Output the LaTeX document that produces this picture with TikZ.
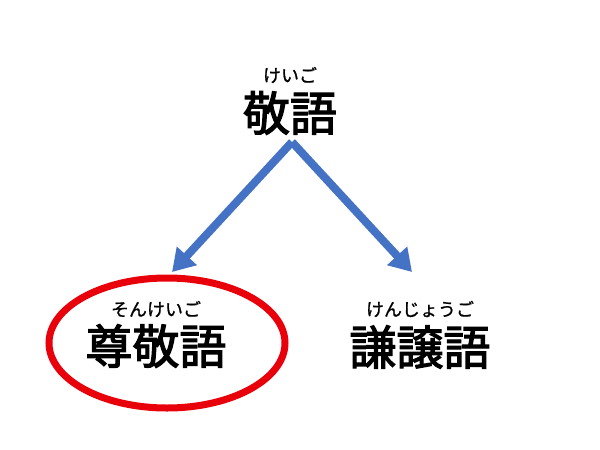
\documentclass[tikz,border=0pt]{standalone}
\usepackage{fontspec}
\newfontfamily\jp[FakeBold=2.5]{Noto Sans CJK JP}
\newfontfamily\jpruby[FakeBold=1]{Noto Sans CJK JP}
\usetikzlibrary{arrows.meta,shapes.geometric}
\definecolor{arrowblue}{HTML}{4472C4}
\definecolor{ringred}{HTML}{E8000B}
\tikzset{
  word/.style={font=\jp\fontsize{47}{50}\selectfont, inner sep=0pt, anchor=center},
  ruby/.style={font=\jpruby\fontsize{18}{21}\selectfont, inner sep=0pt, anchor=center},
  branch/.style={draw=arrowblue, line width=8pt, -{Triangle[width=26pt,length=22pt]}},
  ring/.style={draw=ringred, line width=7pt, ellipse, minimum width=236pt, minimum height=130pt, inner sep=0pt}
}
\begin{document}
\begin{tikzpicture}[x=1pt,y=-1pt]
\useasboundingbox (0,0) rectangle (600,450);
\fill[white] (0,0) rectangle (600,450);
\node[ruby] (rkeigo) at (290,75) {けいご};
\node[word] (keigo) at (290,113) {敬語};
\coordinate (apex) at (292,142);
\coordinate (ltip) at (172,272);
\coordinate (rtip) at (412,272);
\draw[branch] (apex) -- (ltip);
\draw[branch] (apex) -- (rtip);
\node[ring] (oval) at (167,343) {};
\node[ruby] (rsonkei) at (156,309) {そんけいご};
\node[word] (sonkei) at (156,346) {尊敬語};
\node[ruby] (rkenjou) at (420,309) {けんじょうご};
\node[word] (kenjou) at (420,347) {謙譲語};
\end{tikzpicture}
\end{document}
